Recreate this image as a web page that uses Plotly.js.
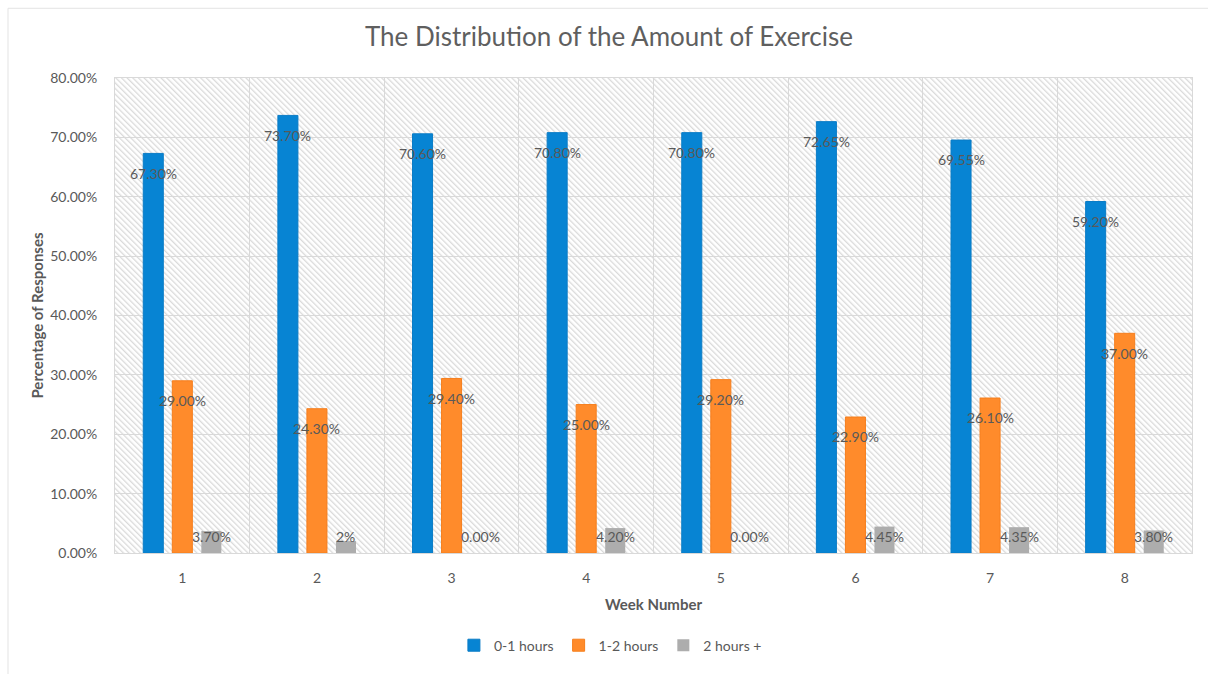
<!DOCTYPE html>
<html>
<head>
<meta charset="utf-8">
<script src="https://cdn.plot.ly/plotly-3.0.1.min.js"></script>
<style>
  html, body { margin: 0; padding: 0; background: #ffffff; }
  #chart { width: 1208px; height: 674px; }
</style>
</head>
<body>
<div id="chart"></div>
<script>
// Weekly survey: share of responses per amount-of-exercise bracket (percent)
const weeks = ['1', '2', '3', '4', '5', '6', '7', '8'];
const seriesNames = ['0-1 hours', '1-2 hours', '2 hours +'];
const lowExercise = [67.30, 73.70, 70.60, 70.80, 70.80, 72.65, 69.55, 59.20];
const midExercise = [29.00, 24.30, 29.40, 25.00, 29.20, 22.90, 26.10, 37.00];
const highExercise = [3.70, 2, 0.00, 4.20, 0.00, 4.45, 4.35, 3.80];
// week 2 of the top bracket is reported without decimals
const highLabels = ['3.70%', '2%', '0.00%', '4.20%', '0.00%', '4.45%', '4.35%', '3.80%'];

const colors = ['#0784d3', '#ff8b2b', '#adadad'];
const outlines = ['#0a7cc6', '#f67e1c', '#adadad'];
const outlineWidths = [1, 1, 0];
const allValues = [lowExercise, midExercise, highExercise];
const fmt = v => v.toFixed(2) + '%';
const allLabels = [lowExercise.map(fmt), midExercise.map(fmt), highLabels];

const W = 1208, H = 674;
const M = { l: 115, r: 16, t: 78, b: 119 };
const plotW = W - M.l - M.r, plotH = H - M.t - M.b;
const FONT = 'Lato, "Open Sans", sans-serif';

const traces = allValues.map((vals, i) => ({
  type: 'bar',
  name: seriesNames[i],
  x: weeks,
  y: vals,
  marker: { color: colors[i], line: { color: outlines[i], width: outlineWidths[i] } },
  hoverinfo: 'x+y+name'
}));

// value labels sit just below each bar top, kept clear of the baseline
const barSlot = plotW / weeks.length * (1 - 0.353) / 3;
const annotations = [];
allValues.forEach((vals, i) => {
  vals.forEach((v, j) => {
    annotations.push({
      x: j, xref: 'x', y: Math.max(v - 3.35, 2.85), yref: 'y',
      xshift: (i - 1) * barSlot,
      text: allLabels[i][j], showarrow: false,
      xanchor: 'center', yanchor: 'middle',
      font: { family: FONT, size: 14, color: '#595959' }
    });
  });
});

// diagonal hatch fill for the plotting area
const hatch = `<svg xmlns="http://www.w3.org/2000/svg" width="${plotW}" height="${plotH}">` +
  `<defs><pattern id="h" width="4" height="4" patternUnits="userSpaceOnUse" patternTransform="rotate(-45)">` +
  `<rect width="4" height="4" fill="#ffffff"/><rect x="0" y="0" width="1.3" height="4" fill="#dadada"/></pattern></defs>` +
  `<rect width="100%" height="100%" fill="url(#h)"/></svg>`;

const px = x => (x - M.l) / plotW;
const py = y => (H - M.b - y) / plotH;

const layout = {
  width: W, height: H,
  margin: M,
  paper_bgcolor: '#ffffff',
  plot_bgcolor: '#ffffff',
  font: { family: FONT, color: '#595959', size: 12 },
  title: {
    text: 'The Distribution of the Amount of Exercise',
    font: { family: FONT, size: 26, color: '#5f5f5f' },
    x: 609 / W, xanchor: 'center', xref: 'container',
    y: 1 - 37 / H, yanchor: 'middle'
  },
  barmode: 'group',
  bargap: 0.353,
  bargroupgap: 0.31,
  xaxis: {
    type: 'category',
    tickson: 'boundaries',
    showgrid: true, gridcolor: '#d9d9d9', gridwidth: 1,
    showline: true, linecolor: '#d9d9d9', mirror: true,
    ticks: '', ticklabelstandoff: 12,
    tickfont: { size: 14, color: '#595959' },
    title: { text: '<b>Week Number</b>', standoff: 14, font: { size: 15, color: '#595959' } },
    zeroline: false
  },
  yaxis: {
    range: [0, 80], dtick: 10,
    tickformat: '.2f', ticksuffix: '%',
    showgrid: true, gridcolor: '#d9d9d9', gridwidth: 1,
    showline: true, linecolor: '#d9d9d9', mirror: true,
    ticks: '', ticklabelstandoff: 14,
    tickfont: { size: 14, color: '#595959' },
    title: { text: '<b>Percentage of Responses</b>', standoff: 2, font: { size: 15, color: '#595959' } },
    zeroline: false
  },
  legend: {
    orientation: 'h', x: 0.46, xanchor: 'center', y: py(648), yanchor: 'middle',
    font: { size: 14, color: '#595959' }, traceorder: 'normal',
    itemwidth: 30
  },
  images: [{
    source: 'data:image/svg+xml;charset=utf-8,' + encodeURIComponent(hatch),
    xref: 'paper', yref: 'paper', x: 0, y: 1, sizex: 1, sizey: 1,
    sizing: 'stretch', layer: 'below', xanchor: 'left', yanchor: 'top'
  }],
  shapes: [{
    type: 'rect', xref: 'paper', yref: 'paper',
    x0: px(8), x1: px(1230), y0: py(700), y1: py(8),
    line: { color: '#e3e3e3', width: 1 }, fillcolor: 'rgba(0,0,0,0)', layer: 'below'
  }],
  annotations: annotations,
  showlegend: true
};

Plotly.newPlot('chart', traces, layout, { displayModeBar: false, staticPlot: true });
</script>
</body>
</html>
